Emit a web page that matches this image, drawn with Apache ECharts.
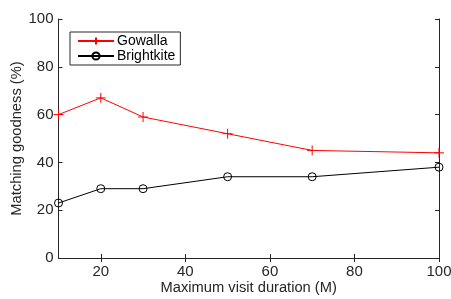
<!DOCTYPE html>
<html>
<head>
<meta charset="utf-8">
<script src="https://cdn.jsdelivr.net/npm/echarts@6/dist/echarts.min.js"></script>
<style>
  html, body { margin: 0; padding: 0; background: #fff; }
  #main { width: 451px; height: 299px; }
</style>
</head>
<body>
<div id="main"></div>
<script>
// data
var durations = [10, 20, 30, 50, 70, 100];
var gowalla = [60, 67, 59, 52, 45, 44];
var brightkite = [23, 29, 29, 34, 34, 38];
var xTicks = [20, 40, 60, 80, 100];
var yTicks = [0, 20, 40, 60, 80, 100];

var axisColor = '#262626';
var font = 'Liberation Sans, Arial, Helvetica, sans-serif';

function pairs (xs, ys) {
  return xs.map(function (x, i) { return [x, ys[i]]; });
}

var chart = echarts.init(document.getElementById('main'));

// box style axes (matlab look): ticks inside, no split lines
function boxAxis (extra) {
  var base = {
    type: 'value',
    axisLine: { show: true, lineStyle: { color: axisColor, width: 1 } },
    axisTick: { show: true, inside: true, length: 4, lineStyle: { color: axisColor } },
    splitLine: { show: false },
    axisLabel: { show: false }
  };
  return Object.assign(base, extra);
}

chart.setOption({
  animation: false,
  textStyle: { fontFamily: font },
  grid: { left: 58.5, right: 12, top: 19, bottom: 41, containLabel: false, outerBoundsMode: 'none' },
  legend: {
    left: 70,
    top: 32,
    orient: 'vertical',
    itemWidth: 36,
    itemHeight: 9,
    itemGap: 1,
    padding: [2, 5, 2, 7],
    borderColor: axisColor,
    borderWidth: 1,
    backgroundColor: '#fff',
    textStyle: { fontSize: 14, color: '#000', fontFamily: font, padding: [0, 0, 0, -2] },
    data: ['Gowalla', 'Brightkite']
  },
  xAxis: [
    boxAxis({
      min: 10, max: 100,
      name: 'Maximum visit duration (M)',
      nameLocation: 'middle',
      nameGap: 22,
      nameMoveOverlap: false,
      nameTextStyle: { fontSize: 14.7, color: axisColor, fontFamily: font },
      axisTick: { show: true, inside: true, length: 4, customValues: xTicks, lineStyle: { color: axisColor } },
      axisLabel: { show: true, customValues: xTicks, fontSize: 15, color: axisColor, margin: 6, fontFamily: font }
    }),
    boxAxis({
      min: 10, max: 100, position: 'top',
      axisTick: { show: true, inside: true, length: 4, customValues: xTicks, lineStyle: { color: axisColor } }
    })
  ],
  yAxis: [
    boxAxis({
      min: 0, max: 100, interval: 20,
      name: 'Matching goodness (%)',
      nameLocation: 'middle',
      nameGap: 34,
      nameMoveOverlap: false,
      nameTextStyle: { fontSize: 14.7, color: axisColor, fontFamily: font },
      axisLabel: { show: true, fontSize: 15, color: axisColor, margin: 5, fontFamily: font }
    }),
    boxAxis({ min: 0, max: 100, interval: 20, position: 'right' })
  ],
  series: [
    {
      name: 'Gowalla',
      type: 'line',
      data: pairs(durations, gowalla),
      symbol: 'path://M0,-1L0,1M-1,0L1,0',
      symbolSize: 10,
      showAllSymbol: true,
      lineStyle: { color: '#ff0000', width: 1 },
      itemStyle: { color: '#ff0000', borderColor: '#ff0000', borderWidth: 1 }
    },
    {
      name: 'Brightkite',
      type: 'line',
      data: pairs(durations, brightkite),
      symbol: 'circle',
      symbolSize: 8,
      showAllSymbol: true,
      lineStyle: { color: '#000', width: 1 },
      itemStyle: { color: 'rgba(0,0,0,0)', borderColor: '#000', borderWidth: 1 }
    }
  ]
});
</script>
</body>
</html>
